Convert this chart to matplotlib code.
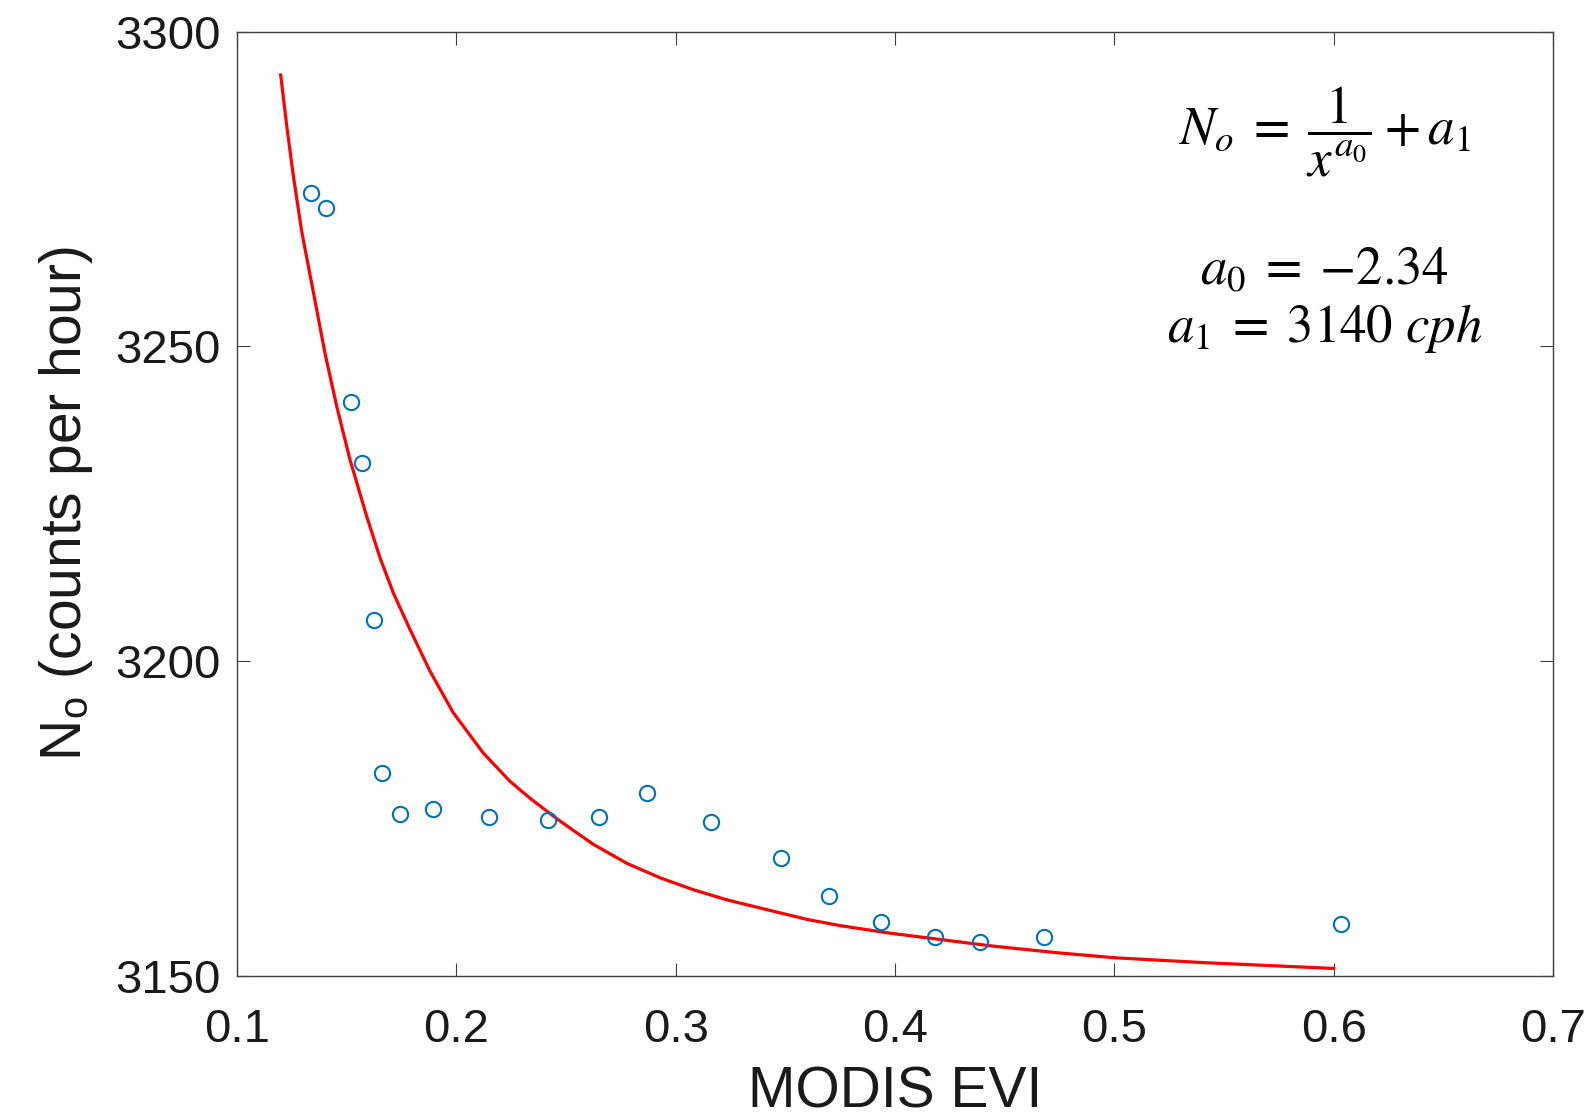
"""
EVI vs N0 fit plot, MATLAB-like styling.
"""

import matplotlib
matplotlib.use("Agg")
import matplotlib.pyplot as plt

# ---------------------------------------------------------------------------
# data
# ---------------------------------------------------------------------------
evi_obs = [0.1335, 0.1405, 0.1521, 0.1568, 0.1626, 0.1662, 0.1742, 0.1893,
           0.2150, 0.2419, 0.2652, 0.2871, 0.3160, 0.3478, 0.3700, 0.3935,
           0.4180, 0.4388, 0.4679, 0.6034]
n0_obs = [3274.4, 3272.0, 3241.1, 3231.5, 3206.6, 3182.2, 3175.7, 3176.5,
          3175.3, 3174.8, 3175.2, 3179.0, 3174.5, 3168.8, 3162.7, 3158.6,
          3156.2, 3155.4, 3156.2, 3158.3]

# fitted curve
evi_fit = [0.1199, 0.1227, 0.1257, 0.1295, 0.1348, 0.1401, 0.1455, 0.1515,
           0.1591, 0.1652, 0.1713, 0.1789, 0.1880, 0.1986, 0.2123, 0.2245,
           0.2344, 0.2473, 0.2625, 0.2777, 0.2929, 0.3081, 0.3233, 0.3385,
           0.3598, 0.3750, 0.3978, 0.4206, 0.4434, 0.4738, 0.5000, 0.5422,
           0.6000]
n0_fit = [3293.1, 3284.9, 3277.0, 3268.2, 3258.6, 3248.9, 3240.4, 3232.0,
          3223.0, 3216.4, 3210.8, 3205.0, 3198.4, 3191.8, 3185.4, 3180.9,
          3178.0, 3174.6, 3170.9, 3167.9, 3165.6, 3163.7, 3162.1, 3160.8,
          3159.0, 3158.0, 3156.8, 3155.8, 3154.8, 3153.7, 3152.9, 3152.1,
          3151.2]

x_ticks = [0.1, 0.2, 0.3, 0.4, 0.5, 0.6, 0.7]
y_ticks = [3150, 3200, 3250, 3300]

OBS_COLOR = "#0072BD"
FIT_COLOR = "#FF0000"
AXIS_COLOR = "#404040"
TEXT_COLOR = "#1a1a1a"

plt.rcParams["font.family"] = ["Liberation Sans", "DejaVu Sans"]
plt.rcParams["mathtext.fontset"] = "stix"

fig = plt.figure(figsize=(15.93, 11.18), dpi=100)
ax = fig.add_axes([0.1488, 0.127, 0.8261, 0.8448])

ax.plot(evi_fit, n0_fit, color=FIT_COLOR, linewidth=2.3,
        solid_joinstyle="round", zorder=2)
ax.plot(evi_obs, n0_obs, linestyle="none", marker="o", markersize=11,
        markerfacecolor="none", markeredgecolor=OBS_COLOR,
        markeredgewidth=1.5, zorder=3)

ax.set_xlim(0.1, 0.7)
ax.set_ylim(3150, 3300)
ax.set_xticks(x_ticks)
ax.set_xticklabels([f"{v:g}" for v in x_ticks])
ax.set_yticks(y_ticks)

for s in ax.spines.values():
    s.set_color(AXIS_COLOR)
    s.set_linewidth(1.0)
ax.tick_params(direction="in", length=9.5, width=0.8, color=AXIS_COLOR,
               top=True, right=True, labelsize=34, labelcolor=TEXT_COLOR)
ax.tick_params(axis="x", pad=23)
ax.tick_params(axis="y", pad=12)

ax.set_xlabel("MODIS EVI", fontsize=41, color=TEXT_COLOR, labelpad=10)
ax.set_ylabel(r"N$_\mathregular{o}$ (counts per hour)", fontsize=41,
              color=TEXT_COLOR, labelpad=14)

# fit equation annotation (upper right)
ax.text(0.8266, 0.894, r"$N_o \;=\; \dfrac{1}{x^{a_0}} + a_1$",
        transform=ax.transAxes, ha="center", va="center", fontsize=38)
ax.text(0.8266, 0.747, r"$a_0 \;=\; {-}2.34$", transform=ax.transAxes,
        ha="center", va="center", fontsize=38)
ax.text(0.8266, 0.686, r"$a_1 \;=\; 3140\ cph$", transform=ax.transAxes,
        ha="center", va="center", fontsize=38)

fig.savefig("out.png", dpi=100, facecolor="white")
plt.close(fig)
